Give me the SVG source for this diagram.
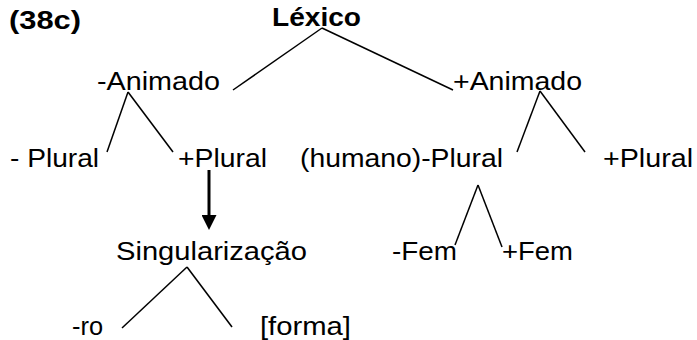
<svg xmlns="http://www.w3.org/2000/svg" width="697" height="340" viewBox="0 0 697 340">
<style>
text{font-family:"Liberation Sans",Arial,sans-serif;font-size:25px;fill:#000}
.b{font-weight:bold}
.e{stroke:#000;stroke-width:1.5;fill:none}
.a{stroke:#000;stroke-width:3;fill:none}
</style>
<defs>
<marker id="ah" markerWidth="5" markerHeight="5" refX="0" refY="2.5" orient="auto" markerUnits="strokeWidth">
<path d="M0,0 L5,2.5 L0,5 Z" fill="#000"/>
</marker>
</defs>
<rect width="697" height="340" fill="#fff"/>
<g id="connectors">
<line class="e" x1="322" y1="28" x2="233" y2="90"/>
<line class="e" x1="322" y1="28" x2="453" y2="90"/>
<line class="e" x1="128" y1="92" x2="107" y2="152"/>
<line class="e" x1="128" y1="92" x2="173" y2="152"/>
<line class="e" x1="540" y1="91" x2="517" y2="152"/>
<line class="e" x1="540" y1="91" x2="585" y2="152"/>
<line class="e" x1="478" y1="185" x2="455" y2="245"/>
<line class="e" x1="478" y1="185" x2="502" y2="247"/>
<line class="e" x1="187" y1="267" x2="122" y2="328"/>
<line class="e" x1="187" y1="267" x2="232" y2="327"/>
<line class="a" x1="209" y1="170" x2="209" y2="215" marker-end="url(#ah)"/>
</g>
<g id="label"><text class="b" x="9" y="29" textLength="72" lengthAdjust="spacingAndGlyphs">(38c)</text></g>
<g id="lexico"><text class="b" x="272" y="26" textLength="89" lengthAdjust="spacingAndGlyphs">Léxico</text></g>
<g id="menos-animado"><text x="97" y="90" textLength="123" lengthAdjust="spacingAndGlyphs">-Animado</text></g>
<g id="mais-animado"><text x="453" y="90" textLength="129" lengthAdjust="spacingAndGlyphs">+Animado</text></g>
<g id="menos-plural-1"><text x="10" y="167" textLength="89" lengthAdjust="spacingAndGlyphs">- Plural</text></g>
<g id="mais-plural-1"><text x="178" y="167" textLength="89" lengthAdjust="spacingAndGlyphs">+Plural</text></g>
<g id="humano-plural"><text x="300" y="167" textLength="203" lengthAdjust="spacingAndGlyphs">(humano)-Plural</text></g>
<g id="mais-plural-2"><text x="603" y="167" textLength="90" lengthAdjust="spacingAndGlyphs">+Plural</text></g>
<g id="singularizacao"><text x="116" y="260" textLength="191" lengthAdjust="spacingAndGlyphs">Singularização</text></g>
<g id="menos-fem"><text x="392" y="260" textLength="65" lengthAdjust="spacingAndGlyphs">-Fem</text></g>
<g id="mais-fem"><text x="502" y="260" textLength="71" lengthAdjust="spacingAndGlyphs">+Fem</text></g>
<g id="ro"><text x="72" y="335" textLength="31" lengthAdjust="spacingAndGlyphs">-ro</text></g>
<g id="forma"><text x="260" y="335" textLength="91" lengthAdjust="spacingAndGlyphs">[forma]</text></g>
</svg>
